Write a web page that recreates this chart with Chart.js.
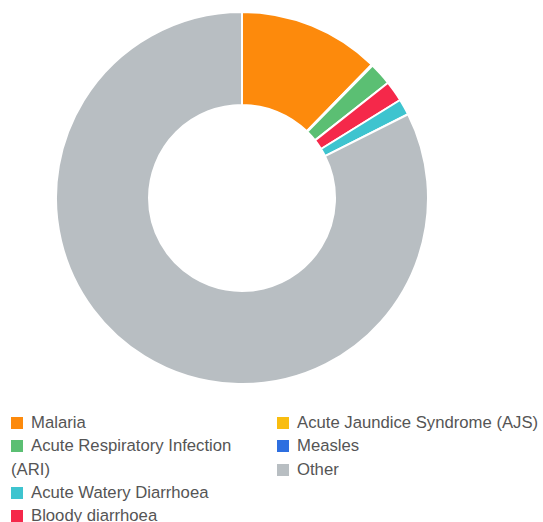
<!DOCTYPE html>
<html lang="en">
<head>
    <meta charset="UTF-8">
    <title>Cases by disease</title>
    <script src="https://cdn.jsdelivr.net/npm/chart.js"></script>
    <style>
        body { margin: 0; background: #fff; font-family: "Liberation Sans", Arial, sans-serif; }
        .chart-box { position: absolute; left: 55px; top: 11px; width: 374px; height: 374px; }
        .legend { position: absolute; top: 411px; margin: 0; padding: 0; list-style: none;
                  font-size: 16.7px; line-height: 23.3px; color: #555; }
        .legend li { margin: 0; padding: 0; }
        .legend .box { display: inline-block; width: 12px; height: 12px; margin-right: 8px; vertical-align: -1px; }
        #legendLeft { left: 11px; width: 250px; }
        #legendRight { left: 277px; width: 266px; }
    </style>
</head>
<body>
    <div class="chart-box"><canvas id="diseaseChart"></canvas></div>
    <ul class="legend" id="legendLeft"></ul>
    <ul class="legend" id="legendRight"></ul>

    <script>
        // slice order as drawn, clockwise from the top
        const diseases = ["Malaria", "Acute Jaundice Syndrome (AJS)", "Acute Respiratory Infection (ARI)",
                          "Bloody diarrhoea", "Acute Watery Diarrhoea", "Measles", "Other"];
        const cases = [123, 1, 20, 18, 14, 0, 826];
        const colours = ["#fd8a0c", "#f9bd10", "#5bbf73", "#f5284a", "#3ec4cf", "#2e6fe0", "#b8bec2"];

        // legend layout: two columns
        const legendLeft = ["Malaria", "Acute Respiratory Infection (ARI)", "Acute Watery Diarrhoea", "Bloody diarrhoea"];
        const legendRight = ["Acute Jaundice Syndrome (AJS)", "Measles", "Other"];

        new Chart(document.getElementById("diseaseChart"), {
            type: "doughnut",
            data: {
                labels: diseases,
                datasets: [{
                    data: cases,
                    backgroundColor: colours,
                    borderColor: "#fff",
                    borderWidth: 2
                }]
            },
            options: {
                responsive: true,
                maintainAspectRatio: false,
                animation: false,
                cutout: "50%",
                layout: { padding: 0 },
                plugins: {
                    legend: { display: false },
                    tooltip: { enabled: false }
                }
            }
        });

        function fillLegend(id, names) {
            const ul = document.getElementById(id);
            names.forEach(name => {
                const li = document.createElement("li");
                const box = document.createElement("span");
                box.className = "box";
                box.style.background = colours[diseases.indexOf(name)];
                li.appendChild(box);
                li.appendChild(document.createTextNode(name));
                ul.appendChild(li);
            });
        }
        fillLegend("legendLeft", legendLeft);
        fillLegend("legendRight", legendRight);
    </script>
</body>
</html>
